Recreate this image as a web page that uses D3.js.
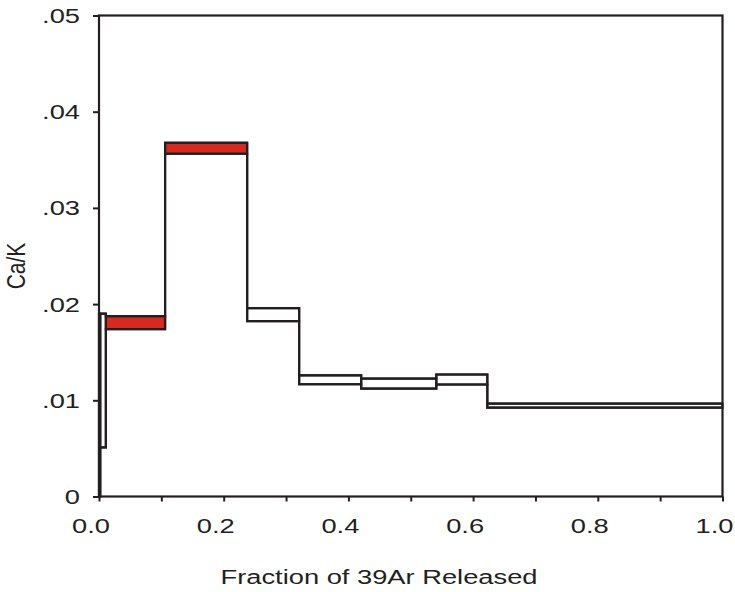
<!DOCTYPE html>
<html>
<head>
<meta charset="utf-8">
<script src="https://cdn.jsdelivr.net/npm/d3@7"></script>
<style>
  html, body { margin: 0; padding: 0; background: #fff; }
  svg { display: block; }
  text { font-family: "Liberation Sans", Arial, sans-serif; fill: #231f20; }
</style>
</head>
<body>
<svg id="chart" width="735" height="592"></svg>
<script>
// Step boundaries (cumulative fraction of 39Ar released)
const stepBounds = [0, 0.002, 0.011, 0.106, 0.2376, 0.321, 0.4205, 0.541, 0.6228, 1.0];
// Upper and lower limits of Ca/K for each step
const caKHigh = [0.0190, 0.0190, 0.01875, 0.03677, 0.01958, 0.0126, 0.01226, 0.01268, 0.00966];
const caKLow  = [0.0000, 0.0051, 0.0174, 0.03563, 0.01823, 0.01167, 0.01122, 0.01164, 0.00924];
// Highlighted (red) steps
const highlighted = [false, false, true, true, false, false, false, false, false];
// Tick labels
const xTicks = [0, 0.2, 0.4, 0.6, 0.8, 1.0];
const xMinorTicks = [0, 0.1, 0.2, 0.3, 0.4, 0.5, 0.6, 0.7, 0.8, 0.9, 1.0];
const yTicks = [0, 0.01, 0.02, 0.03, 0.04, 0.05];
const yTickLabels = ["0", ".01", ".02", ".03", ".04", ".05"];
const xTitle = "Fraction of 39Ar Released";
const yTitle = "Ca/K";

const svg = d3.select("#chart");
const ink = "#231f20";
const stretch = 1.3;

const x = d3.scaleLinear().domain([0, 1]).range([99, 722.5]);
const y = d3.scaleLinear().domain([0, 0.05]).range([496.5, 15.5]);

const steps = caKHigh.map((h, i) => ({
  x0: stepBounds[i], x1: stepBounds[i + 1], hi: h, lo: caKLow[i], red: highlighted[i]
}));

// Red fills
svg.append("g").selectAll("rect").data(steps.filter(d => d.red)).join("rect")
  .attr("x", d => x(d.x0)).attr("width", d => x(d.x1) - x(d.x0))
  .attr("y", d => y(d.hi)).attr("height", d => y(d.lo) - y(d.hi))
  .attr("fill", "#d62a20");

// Upper and lower step envelopes
const line = d3.line().x(d => x(d[0])).y(d => y(d[1]));
const upper = steps.flatMap(d => [[d.x0, d.hi], [d.x1, d.hi]]);
const lower = steps.flatMap(d => [[d.x0, d.lo], [d.x1, d.lo]]);
[upper, lower].forEach(pts => {
  svg.append("path").attr("d", line(pts))
    .attr("fill", "none").attr("stroke", ink).attr("stroke-width", 2.2)
    .attr("stroke-linejoin", "miter");
});

// Step box outlines
svg.append("g").selectAll("rect").data(steps).join("rect")
  .attr("x", d => x(d.x0)).attr("width", d => x(d.x1) - x(d.x0))
  .attr("y", d => y(d.hi)).attr("height", d => y(d.lo) - y(d.hi))
  .attr("fill", "none").attr("stroke", ink).attr("stroke-width", 2.2);

// Frame
svg.append("rect")
  .attr("x", x(0)).attr("y", y(0.05))
  .attr("width", x(1) - x(0)).attr("height", y(0) - y(0.05))
  .attr("fill", "none").attr("stroke", ink).attr("stroke-width", 2.2);

// Y axis ticks and labels
const yAxis = d3.axisLeft(y).tickValues(yTicks).tickSize(6).tickFormat("");
const gy = svg.append("g").attr("transform", `translate(${x(0)},0)`).call(yAxis);
gy.select(".domain").remove();
gy.selectAll("line").attr("stroke", ink).attr("stroke-width", 2);

svg.append("g").selectAll("text").data(yTicks).join("text")
  .attr("transform", d => `translate(80,${y(d) + 7.5}) scale(${stretch},1)`)
  .attr("text-anchor", "end")
  .attr("font-size", 21)
  .text((d, i) => yTickLabels[i]);

// X axis ticks and labels
const xAxis = d3.axisBottom(x).tickValues(xMinorTicks).tickSize(5).tickFormat("");
const gx = svg.append("g").attr("transform", `translate(0,${y(0)})`).call(xAxis);
gx.select(".domain").remove();
gx.selectAll("line").attr("stroke", ink).attr("stroke-width", 2);

svg.append("g").selectAll("text").data(xTicks).join("text")
  .attr("transform", d => `translate(${x(d) - 8},533) scale(${stretch},1)`)
  .attr("text-anchor", "middle")
  .attr("font-size", 21)
  .text(d => d3.format(".1f")(d));

// Axis titles
svg.append("text")
  .attr("transform", `translate(379,584) scale(${stretch},1)`)
  .attr("text-anchor", "middle")
  .attr("font-size", 21)
  .text(xTitle);

svg.append("text")
  .attr("transform", `translate(25,266) scale(1.2,1) rotate(-90)`)
  .attr("text-anchor", "middle")
  .attr("font-size", 21)
  .text(yTitle);
</script>
</body>
</html>
